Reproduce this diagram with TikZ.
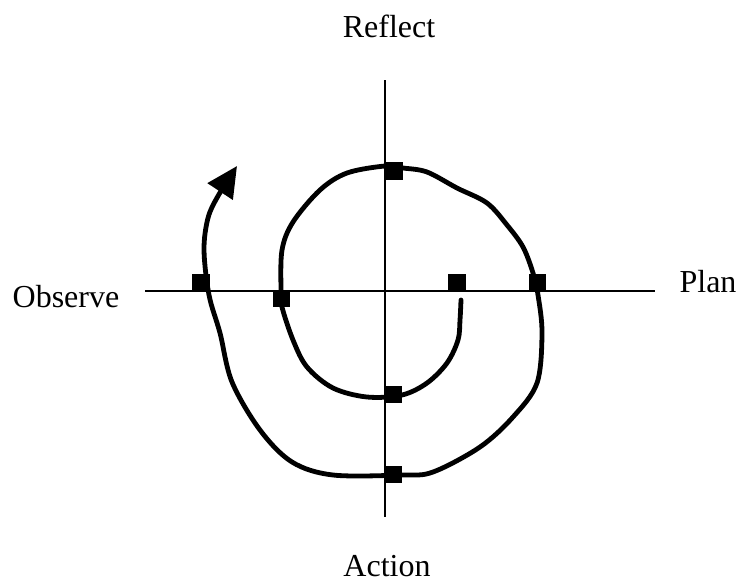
\documentclass[tikz,border=0pt]{standalone}
\usepackage{fontspec}
\setmainfont{Liberation Serif}
\usetikzlibrary{arrows.meta}
\begin{document}
\begin{tikzpicture}[x=0.75pt,y=-0.75pt,
  sq/.style={fill=black,minimum size=13pt,inner sep=0pt,outer sep=0pt},
  lbl/.style={font=\fontsize{24}{28}\selectfont,inner sep=0pt,anchor=base},
  axis/.style={line width=1.1pt},
  spiral/.style={line width=3.6pt,line join=round,line cap=round}]
\useasboundingbox (0,0) rectangle (738,583);
% axes
\coordinate (axL) at (145,291);
\coordinate (axR) at (655,291);
\coordinate (axT) at (385,80);
\coordinate (axB) at (385,517);
\draw[axis] (axL) -- (axR);
\draw[axis] (axT) -- (axB);
% labels
\node[lbl] (reflect) at (389,37) {Reflect};
\node[lbl] (action) at (387,576) {Action};
\node[lbl] (observe) at (66,307) {Observe};
\node[lbl] (plan) at (708,292) {Plan};
% spiral
\draw[spiral,-{Triangle[length=23pt,width=22pt]}] plot[smooth,tension=0.55] coordinates {
(461,300) (460,320) (458,340) (447,363) (427,383) (402,395) (367,397)
(333,388) (307,367) (293,340) (282,307) (281,291) (282,250) (293,222)
(320,190) (347,173) (385,166) (403,168) (427,172) (457,188) (487,203)
(507,225) (523,247) (533,273) (538,295) (542,333) (537,383) (513,417)
(480,447) (433,472) (402,475) (333,475) (292,462) (260,430)
(232,382) (220,333) (209,295) (204,250) (208,218) (218,196) (237,166)};
% squares
\node[sq] (s1) at (394,171) {};
\node[sq] (s2) at (201,282.5) {};
\node[sq] (s3) at (281.5,298.5) {};
\node[sq] (s4) at (457,283) {};
\node[sq] (s5) at (537.5,283) {};
\node[sq] (s6) at (393,394.5) {};
\node[sq] (s7) at (393,474.5) {};
\end{tikzpicture}
\end{document}
